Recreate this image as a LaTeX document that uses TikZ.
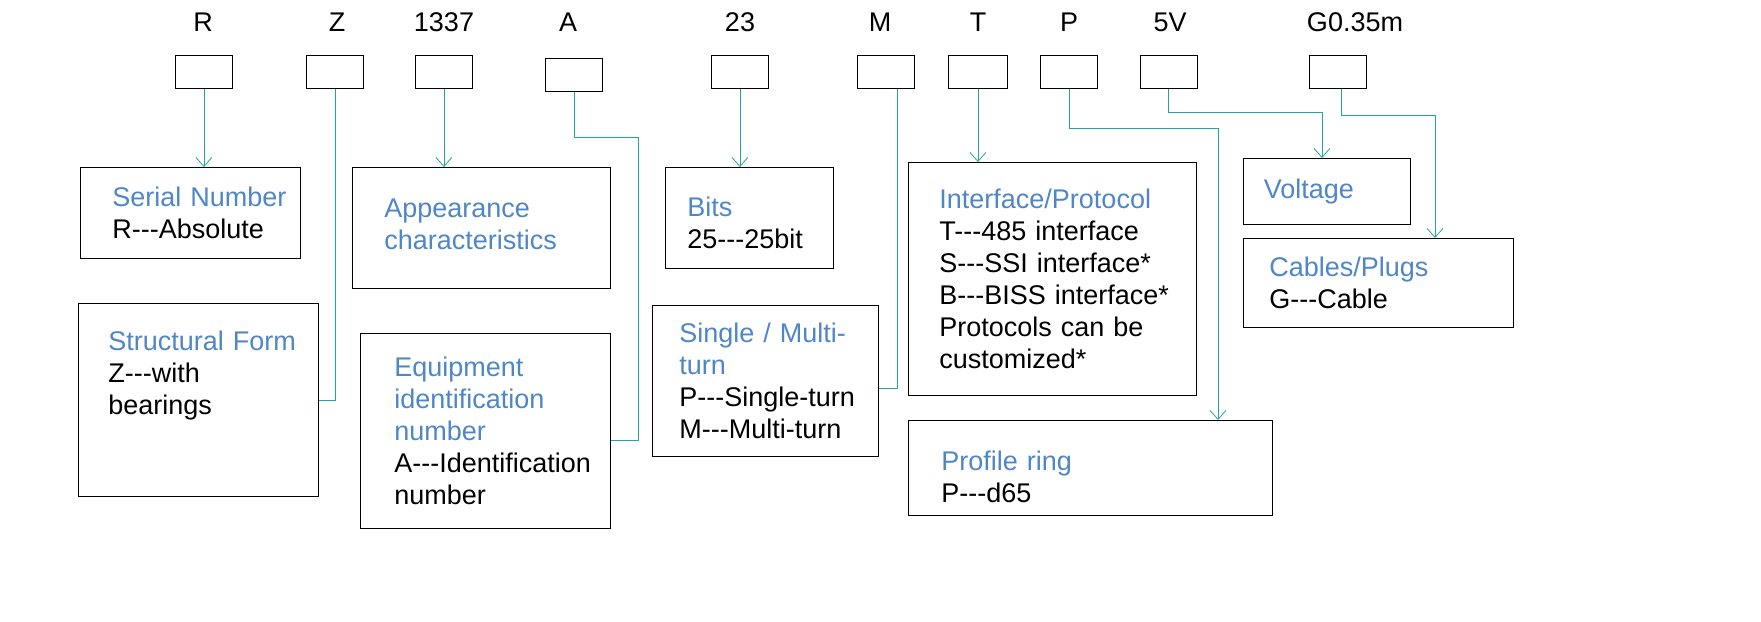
\documentclass[tikz,border=0pt]{standalone}
\usepackage{fontspec}
\setmainfont{Liberation Sans}
\usetikzlibrary{arrows.meta, positioning}
\definecolor{linkc}{HTML}{1FA998}
\definecolor{headc}{HTML}{4F86C6}
\begin{document}
\begin{tikzpicture}[x=1pt, y=-1pt]
        % Styles
        \tikzstyle{code} = [draw, thick, minimum width=57pt, minimum height=33pt, anchor=north west, inner sep=0pt]
        \tikzstyle{info} = [draw, thick, anchor=north west, align=left, inner sep=0pt, font=\fontsize{27}{32}\selectfont]
        \tikzstyle{key} = [font=\fontsize{27}{30}\selectfont]
        \tikzstyle{link} = [draw=linkc, thick]
        \tikzstyle{arr} = [link, -{Straight Barb[length=9pt, width=16pt]}]
        \newcommand{\hd}[1]{\textcolor{headc}{#1}}
        \newcommand{\dd}{{-}{-}{-}}

        \useasboundingbox (0,0) rectangle (1761,621);

        % Code letters
        \foreach \t/\x in {R/203, Z/337, 1337/444, A/568, 23/740, M/880, T/978, P/1069, 5V/1170, G0.35m/1355}
            \node[key] at (\x, 22) {\t};

        % Code boxes
        \node[code] (bR) at (175,55) {};
        \node[code] (bZ) at (306,55) {};
        \node[code] (b1337) at (415,55) {};
        \node[code] (bA) at (545,58) {};
        \node[code] (b23) at (711,55) {};
        \node[code] (bM) at (857,55) {};
        \node[code, minimum width=59pt] (bT) at (948,55) {};
        \node[code] (bP) at (1040,55) {};
        \node[code] (b5V) at (1140,55) {};
        \node[code] (bG) at (1309,55) {};

        % Description boxes
        \node[info, minimum width=220pt, minimum height=91pt, text width=200pt] (serial) at (80,167) {\hspace*{22pt}\hd{Serial Number}\\\hspace*{22pt}R\dd Absolute};
        \node[info, minimum width=240pt, minimum height=193pt, text depth=118pt, text width=220pt] (struct) at (78,303) {\hspace*{20pt}\hd{Structural Form}\\\hspace*{20pt}Z\dd with\\\hspace*{20pt}bearings};
        \node[info, minimum width=258pt, minimum height=121pt, text depth=40pt, text width=236pt] (appear) at (352,167) {\hspace*{21pt}\hd{Appearance}\\\hspace*{21pt}\hd{characteristics}};
        \node[info, minimum width=250pt, minimum height=195pt, text width=230pt] (equip) at (360,333) {\hspace*{24pt}\hd{Equipment}\\\hspace*{24pt}\hd{identification}\\\hspace*{24pt}\hd{number}\\\hspace*{24pt}A\dd Identification\\\hspace*{24pt}number};
        \node[info, minimum width=168pt, minimum height=101pt, text depth=22pt, text width=150pt] (bits) at (665,167) {\hspace*{13pt}\hd{Bits}\\\hspace*{13pt}25\dd 25bit};
        \node[info, minimum width=226pt, minimum height=151pt, text width=206pt] (turn) at (652,305) {\hspace*{17pt}\hd{Single / Multi-}\\\hspace*{17pt}\hd{turn}\\\hspace*{17pt}P\dd Single-turn\\\hspace*{17pt}M\dd Multi-turn};
        \node[info, minimum width=288pt, minimum height=233pt, text width=268pt] (iface) at (908,162) {\hspace*{21pt}\hd{Interface/Protocol}\\\hspace*{21pt}T\dd 485 interface\\\hspace*{21pt}S\dd SSI interface*\\\hspace*{21pt}B\dd BISS interface*\\\hspace*{21pt}Protocols can be\\\hspace*{21pt}customized*};
        \node[info, minimum width=167pt, minimum height=66pt, text width=150pt] (volt) at (1243,158) {\hspace*{12pt}\hd{Voltage}};
        \node[info, minimum width=270pt, minimum height=89pt, text width=250pt] (cable) at (1243,238) {\hspace*{16pt}\hd{Cables/Plugs}\\\hspace*{16pt}G\dd Cable};
        \node[info, minimum width=364pt, minimum height=95pt, text depth=14pt, text width=340pt] (ring) at (908,420) {\hspace*{21pt}\hd{Profile ring}\\\hspace*{21pt}P\dd d65};

        % Connectors
        \draw[arr] (bR.south) -- (serial.north -| bR.south);
        \draw[link] (bZ.south) |- (struct.east |- 0,400);
        \draw[arr] (b1337.south) -- (appear.north -| b1337.south);
        \draw[link] (bA.south) |- (638,137) |- (equip.east |- 0,440);
        \draw[arr] (b23.south) -- (bits.north -| b23.south);
        \draw[link] ([xshift=11pt]bM.south) |- (turn.east |- 0,388);
        \draw[arr] (bT.south) -- (iface.north -| bT.south);
        \draw[arr] (bP.south) |- (1218,128) -- (1218,420);
        \draw[arr] ([xshift=-1pt]b5V.south) |- (1322,112) -- (volt.north -| 1322,0);
        \draw[arr] ([xshift=3pt]bG.south) |- (1435,115) -- (cable.north -| 1435,0);
\end{tikzpicture}
\end{document}
